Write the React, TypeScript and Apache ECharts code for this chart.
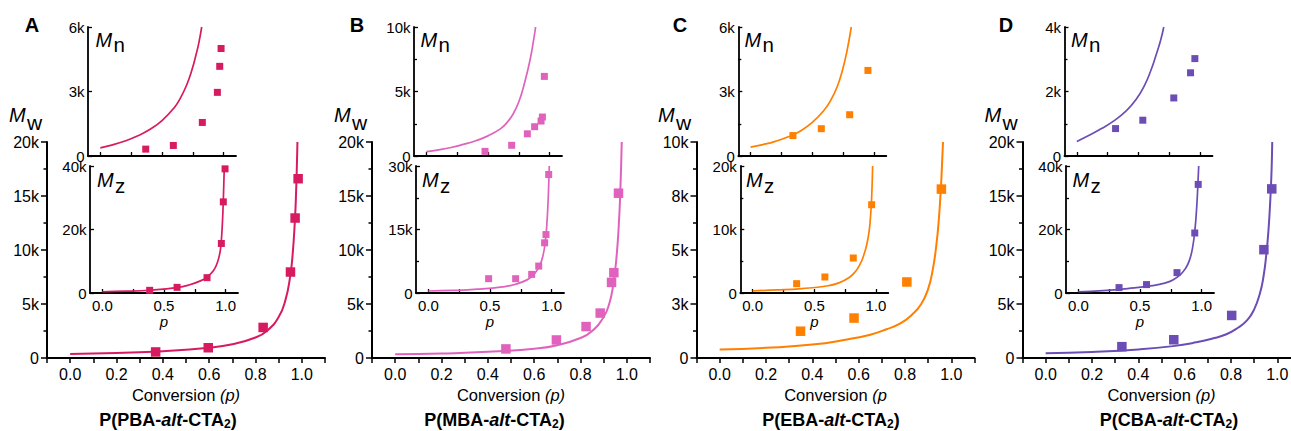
import React, { useEffect, useRef } from "react";
import * as echarts from "echarts";

// ---------- data ----------
const panelLetters = ["A", "B", "C", "D"];
const monomers = ["PBA", "MBA", "EBA", "CBA"];
const conversionTails = [")", ")", "", ")"];

// main Mw axis ranges / tick steps
const mwMax = [20000, 20000, 10000, 20000];
const mwStep = [5000, 5000, 2500, 5000];
// inset Mn
const mnMax = [6000, 10000, 6000, 4000];
const mnStep = [3000, 5000, 3000, 2000];
// inset Mz
const mzMax = [40000, 30000, 20000, 40000];
const mzStep = [20000, 15000, 10000, 20000];
const insetMinorTicks = [false, true, true, true];

const mainXTicks = [-0.1, 0, 0.1, 0.2, 0.3, 0.4, 0.5, 0.6, 0.7, 0.8, 0.9, 1.0, 1.1];
const mainXLabels = [0, 0.2, 0.4, 0.6, 0.8, 1.0];
const insetXTicks = [0, 0.25, 0.5, 0.75, 1.0];
const insetXLabels = [0, 0.5, 1.0];

// Panel A  P(PBA-alt-CTA2)
const mwPointsA = [[0.369, 560], [0.596, 950], [0.833, 2830], [0.951, 7960], [0.971, 12960], [0.984, 16600]];
const mwFitA = [[0, 370], [0.2, 470], [0.4, 630], [0.6, 950], [0.7, 1270], [0.8, 1900], [0.85, 2530], [0.9, 3800], [0.93, 5430], [0.95, 7600], [0.96, 9500], [0.97, 12700], [0.975, 15200], [0.98, 19000], [0.981, 20000]];
const mnPointsA = [[0.368, 320], [0.592, 490], [0.827, 1560], [0.949, 2960], [0.968, 4170], [0.979, 5000]];
const mnFitA = [[0, 380], [0.1, 520], [0.2, 700], [0.3, 930], [0.4, 1230], [0.5, 1650], [0.6, 2250], [0.65, 2700], [0.7, 3300], [0.74, 3950], [0.78, 4800], [0.8, 5300], [0.822, 6000]];
const mzPointsA = [[0.384, 840], [0.606, 1780], [0.849, 4830], [0.965, 15600], [0.981, 28700], [0.995, 39100]];
const mzFitA = [[0, 400], [0.2, 560], [0.4, 950], [0.6, 1700], [0.7, 2500], [0.8, 3900], [0.85, 5100], [0.9, 7000], [0.93, 9300], [0.95, 12000], [0.96, 14500], [0.97, 19500], [0.978, 26000], [0.984, 33000], [0.989, 40000]];

// Panel B  P(MBA-alt-CTA2)
const mwPointsB = [[0.478, 840], [0.696, 1670], [0.824, 2910], [0.885, 4160], [0.934, 7000], [0.944, 7900], [0.964, 15260]];
const mwFitB = [[0, 340], [0.2, 420], [0.4, 570], [0.6, 860], [0.7, 1180], [0.8, 1850], [0.85, 2500], [0.9, 3800], [0.925, 5100], [0.94, 6600], [0.954, 9000], [0.965, 12200], [0.972, 15500], [0.978, 20000]];
const mnPointsB = [[0.476, 360], [0.692, 830], [0.819, 1720], [0.878, 2270], [0.93, 2710], [0.941, 3020], [0.957, 6170]];
const mnFitB = [[0, 340], [0.1, 480], [0.2, 660], [0.3, 900], [0.4, 1180], [0.5, 1560], [0.6, 2100], [0.65, 2550], [0.7, 3200], [0.75, 4200], [0.8, 5800], [0.84, 7400], [0.87, 9000], [0.886, 10000]];
const mzPointsB = [[0.489, 3380], [0.708, 3380], [0.838, 4400], [0.895, 6360], [0.943, 11860], [0.954, 13800], [0.976, 28000]];
const mzFitB = [[0, 470], [0.2, 600], [0.4, 900], [0.6, 1450], [0.7, 2000], [0.8, 3100], [0.85, 4200], [0.9, 6300], [0.93, 8900], [0.95, 12600], [0.96, 15800], [0.97, 21000], [0.976, 25500], [0.981, 30000]];

// Panel C  P(EBA-alt-CTA2)
const mwPointsC = [[0.349, 1240], [0.58, 1850], [0.808, 3520], [0.957, 7820]];
const mwFitC = [[0, 390], [0.2, 470], [0.4, 620], [0.55, 860], [0.65, 1080], [0.72, 1330], [0.78, 1600], [0.83, 2000], [0.87, 2500], [0.9, 3200], [0.92, 4100], [0.935, 5200], [0.946, 6400], [0.955, 7900], [0.96, 9000], [0.964, 10000]];
const mnPointsC = [[0.343, 950], [0.573, 1270], [0.803, 1920], [0.951, 3980]];
const mnFitC = [[0, 410], [0.1, 530], [0.2, 680], [0.3, 880], [0.4, 1150], [0.5, 1560], [0.6, 2160], [0.65, 2600], [0.7, 3200], [0.74, 3900], [0.78, 4850], [0.816, 6000]];
const mzPointsC = [[0.357, 1470], [0.586, 2520], [0.816, 5510], [0.965, 13900]];
const mzFitC = [[0, 350], [0.2, 480], [0.4, 700], [0.6, 1100], [0.7, 1600], [0.78, 2400], [0.83, 3300], [0.87, 4500], [0.9, 5900], [0.925, 7600], [0.945, 9800], [0.955, 11800], [0.965, 15000], [0.973, 20000]];

// Panel D  P(CBA-alt-CTA2)
const mwPointsD = [[0.329, 1050], [0.553, 1690], [0.803, 3940], [0.942, 10030], [0.976, 15660]];
const mwFitD = [[0, 430], [0.2, 560], [0.4, 790], [0.55, 1100], [0.65, 1450], [0.72, 1800], [0.78, 2200], [0.83, 2800], [0.87, 3500], [0.9, 4500], [0.925, 6000], [0.94, 7500], [0.952, 9500], [0.962, 11900], [0.97, 14800], [0.975, 17300], [0.978, 20000]];
const mnPointsD = [[0.314, 850], [0.535, 1110], [0.786, 1800], [0.922, 2580], [0.957, 3020]];
const mnFitD = [[0, 450], [0.1, 640], [0.2, 850], [0.3, 1090], [0.4, 1400], [0.48, 1750], [0.55, 2200], [0.6, 2650], [0.64, 3100], [0.68, 3600], [0.705, 4000]];
const mzPointsD = [[0.33, 1700], [0.553, 2650], [0.8, 6420], [0.944, 18900], [0.972, 34200]];
const mzFitD = [[0, 400], [0.2, 750], [0.4, 1400], [0.6, 2300], [0.7, 3100], [0.77, 4200], [0.83, 5900], [0.87, 7800], [0.9, 10200], [0.925, 14000], [0.945, 19800], [0.958, 26000], [0.968, 33000], [0.976, 40000]];

const mwPoints = [mwPointsA, mwPointsB, mwPointsC, mwPointsD];
const mwFits = [mwFitA, mwFitB, mwFitC, mwFitD];
const mnPoints = [mnPointsA, mnPointsB, mnPointsC, mnPointsD];
const mnFits = [mnFitA, mnFitB, mnFitC, mnFitD];
const mzPoints = [mzPointsA, mzPointsB, mzPointsC, mzPointsD];
const mzFits = [mzFitA, mzFitB, mzFitC, mzFitD];

// ---------- styles / layout ----------
const colors = ["#d81b60", "#e062bc", "#ff7f00", "#6c4db6"];
const FONT = "'Liberation Sans', Arial, Helvetica, sans-serif";
const mainLeft = [47, 372, 696.5, 1022.5];
const mnLeft = [88, 414, 738.3, 1064.5];
const mzLeft = [90, 416, 740.3, 1066];
const textOff = [0, 325, 649, 975.5];
const letterX = [32, 357, 680, 1006];
const titleX = [168, 494.5, 831, 1169];

const kFmt = (v: number) => (v === 0 ? "0" : Math.round(v / 1000) + "k");

function buildOption() {
  const grid: any[] = [];
  const xAxis: any[] = [];
  const yAxis: any[] = [];
  const series: any[] = [];
  const graphic: any[] = [];

  const add = (
    rect: any,
    xCfg: any,
    yCfg: any,
    fit: number[][],
    pts: number[][],
    color: string,
    lineW: number,
    symSize: number
  ) => {
    const idx = grid.length;
    grid.push({ ...rect, containLabel: false, outerBoundsMode: "none" });
    xAxis.push({ type: "value", gridIndex: idx, min: -0.1, max: 1.1, splitLine: { show: false }, ...xCfg });
    yAxis.push({ type: "value", gridIndex: idx, min: 0, splitLine: { show: false }, minorSplitLine: { show: false }, ...yCfg });
    series.push({
      type: "line",
      xAxisIndex: idx,
      yAxisIndex: idx,
      data: fit,
      symbol: "none",
      showSymbol: false,
      smooth: 0.5,
      lineStyle: { color, width: lineW },
      silent: true,
      z: 2,
    });
    series.push({
      type: "scatter",
      xAxisIndex: idx,
      yAxisIndex: idx,
      data: pts,
      symbol: "rect",
      symbolSize: symSize,
      itemStyle: { color, opacity: 1 },
      silent: true,
      z: 3,
    });
  };

  for (let i = 0; i < 4; i++) {
    const color = colors[i];
    // main Mw chart
    add(
      { left: mainLeft[i], top: 142, width: 278, height: 216 },
      {
        axisLine: { show: true, onZero: false, lineStyle: { color: "#000", width: 2 } },
        axisTick: { show: true, customValues: mainXTicks, length: 5, lineStyle: { color: "#000", width: 1.5 } },
        axisLabel: {
          customValues: mainXLabels,
          formatter: (v: number) => v.toFixed(1),
          fontSize: 16,
          color: "#000",
          margin: 8,
          fontFamily: FONT,
        },
        name: "{n|Conversion }{i|(p" + conversionTails[i] + "}",
        nameLocation: "middle",
        nameGap: 27,
        nameTextStyle: {
          fontFamily: FONT,
          color: "#000",
          rich: {
            n: { fontSize: 16.5, fontFamily: FONT, color: "#000" },
            i: { fontSize: 16.5, fontFamily: FONT, color: "#000", fontStyle: "italic" },
          },
        },
      },
      {
        max: mwMax[i],
        interval: mwStep[i],
        axisLine: { show: true, onZero: false, lineStyle: { color: "#000", width: 2 } },
        axisTick: { show: true, length: 6, lineStyle: { color: "#000", width: 1.5 } },
        minorTick: { show: true, splitNumber: 2, length: 3.5, lineStyle: { color: "#000", width: 1.5 } },
        axisLabel: { formatter: kFmt, fontSize: 16, color: "#000", margin: 8, fontFamily: FONT },
      },
      mwFits[i],
      mwPoints[i],
      color,
      2,
      9.5
    );
    // inset Mn
    add(
      { left: mnLeft[i], top: 27, width: 148, height: 129 },
      {
        axisLine: { show: true, onZero: false, lineStyle: { color: "#000", width: 1.8 } },
        axisTick: { show: true, inside: true, customValues: insetXTicks, length: 4, lineStyle: { color: "#000", width: 1.3 } },
        axisLabel: { show: false },
      },
      {
        max: mnMax[i],
        interval: mnStep[i],
        axisLine: { show: true, onZero: false, lineStyle: { color: "#000", width: 1.8 } },
        axisTick: { show: true, inside: true, length: 4, lineStyle: { color: "#000", width: 1.3 } },
        minorTick: { show: insetMinorTicks[i], splitNumber: 2, length: 3, lineStyle: { color: "#000", width: 1.3 } },
        axisLabel: { formatter: kFmt, fontSize: 15, color: "#000", margin: 3.5, fontFamily: FONT },
      },
      mnFits[i],
      mnPoints[i],
      color,
      1.7,
      7
    );
    // inset Mz
    add(
      { left: mzLeft[i], top: 166, width: 148, height: 127 },
      {
        axisLine: { show: true, onZero: false, lineStyle: { color: "#000", width: 1.8 } },
        axisTick: { show: true, inside: true, customValues: insetXTicks, length: 4, lineStyle: { color: "#000", width: 1.3 } },
        axisLabel: {
          customValues: insetXLabels,
          formatter: (v: number) => v.toFixed(1),
          fontSize: 15,
          color: "#000",
          margin: 5,
          fontFamily: FONT,
        },
        name: "p",
        nameLocation: "middle",
        nameGap: 12,
        nameTextStyle: { fontFamily: FONT, fontSize: 15, fontStyle: "italic", color: "#000" },
      },
      {
        max: mzMax[i],
        interval: mzStep[i],
        axisLine: { show: true, onZero: false, lineStyle: { color: "#000", width: 1.8 } },
        axisTick: { show: true, inside: true, length: 4, lineStyle: { color: "#000", width: 1.3 } },
        minorTick: { show: insetMinorTicks[i], splitNumber: 2, length: 3, lineStyle: { color: "#000", width: 1.3 } },
        axisLabel: { formatter: kFmt, fontSize: 15, color: "#000", margin: 3.5, fontFamily: FONT },
      },
      mzFits[i],
      mzPoints[i],
      color,
      1.7,
      7
    );

    const o = textOff[i];
    const txt = (x: number, y: number, text: string, size: number, italic: boolean, bold = false, align = "left") => ({
      type: "text",
      x,
      y,
      silent: true,
      style: {
        text,
        fontSize: size,
        fontFamily: FONT,
        fontStyle: italic ? "italic" : "normal",
        fontWeight: bold ? "bold" : "normal",
        fill: "#000",
        align,
        verticalAlign: "middle",
      },
    });
    // panel letter
    graphic.push(txt(letterX[i], 25, panelLetters[i], 20, false, true, "center"));
    // Mw label
    graphic.push(txt(9 + o, 115, "M", 20, true));
    graphic.push(txt(27 + o, 122, "w", 21, false));
    // Mn label
    graphic.push(txt(95.5 + o, 40, "M", 20, true));
    graphic.push(txt(113.5 + o, 44, "n", 20.5, false));
    // Mz label
    graphic.push(txt(97 + o, 180, "M", 20, true));
    graphic.push(txt(115 + o, 185, "z", 20.5, false));
    // bottom title
    graphic.push({
      type: "text",
      x: titleX[i],
      y: 419.5,
      silent: true,
      style: {
        text: "{b|P(" + monomers[i] + "-}{i|alt}{b|-CTA}{s|2}{b|)}",
        align: "center",
        verticalAlign: "middle",
        fill: "#000",
        fontFamily: FONT,
        rich: {
          b: { fontSize: 18, fontWeight: "bold", fontFamily: FONT, fill: "#000", lineHeight: 20 },
          i: { fontSize: 18, fontWeight: "bold", fontStyle: "italic", fontFamily: FONT, fill: "#000", lineHeight: 20 },
          s: { fontSize: 12, fontWeight: "bold", fontFamily: FONT, fill: "#000", lineHeight: 11, verticalAlign: "bottom" },
        },
      },
    });
  }

  return {
    animation: false,
    backgroundColor: "#ffffff",
    textStyle: { fontFamily: FONT },
    grid,
    xAxis,
    yAxis,
    series,
    graphic,
  };
}

export default function App() {
  const ref = useRef<HTMLDivElement>(null);
  useEffect(() => {
    document.body.style.margin = "0";
    if (!ref.current) return;
    const chart = echarts.init(ref.current, undefined, { renderer: "svg" });
    chart.setOption(buildOption() as any);
    return () => {
      chart.dispose();
    };
  }, []);
  return (
    <div
      ref={ref}
      style={{ position: "absolute", left: 0, top: 0, width: 1291, height: 431, background: "#fff" }}
    />
  );
}
